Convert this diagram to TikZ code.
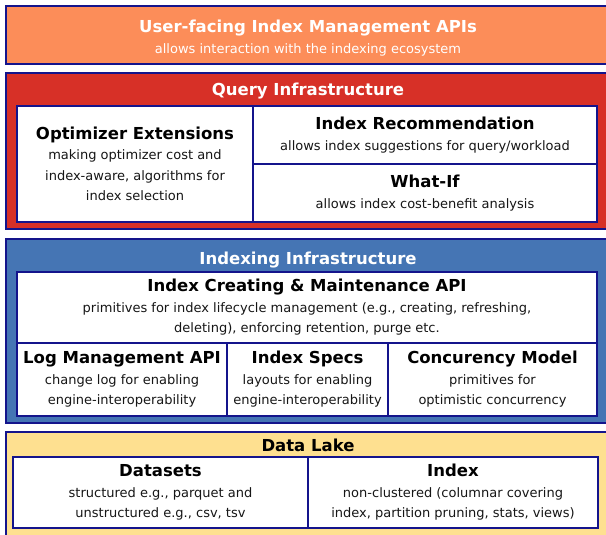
\documentclass[tikz,border=0pt]{standalone}
\usepackage{fontspec}
\setmainfont{DejaVu Sans}
\usepackage{tikz}
\definecolor{apiorange}{HTML}{FC8D59}
\definecolor{queryred}{HTML}{D73027}
\definecolor{indexblue}{HTML}{4575B4}
\definecolor{lakeyellow}{HTML}{FEE090}
\definecolor{framenavy}{HTML}{14148C}
\definecolor{bodygray}{HTML}{161616}
\newcommand{\boxtitle}[1]{{\fontsize{16.5}{20.5}\selectfont\bfseries\color{black}#1}}
\tikzset{
    layer/.style={draw=framenavy, line width=2pt, minimum width=604pt, inner sep=0pt},
    cell/.style={draw=framenavy, fill=white, line width=2pt, inner sep=2pt, align=center,
        text=bodygray, font=\fontsize{13}{20.5}\selectfont},
    head/.style={font=\fontsize{16.5}{20}\selectfont\bfseries, text=white, inner sep=0pt},
}

\begin{document}
\begin{tikzpicture}[x=1pt, y=-1pt]
    \useasboundingbox (0,0) rectangle (606,535);
    \clip (0,0) rectangle (606,535);
    % user-facing layer
    \node [layer, fill=apiorange, minimum height=58pt] (api) at (308,35) {};
    \node [head, align=center, font=\fontsize{13}{21}\selectfont] (apitext) at (308,38)
        {{\fontsize{16.5}{20}\selectfont\bfseries User-facing Index Management APIs}\\allows interaction with the indexing ecosystem};
    % query infrastructure
    \node [layer, fill=queryred, minimum height=156pt] (query) at (308,151) {};
    \node [head] (querytitle) at (308,91) {Query Infrastructure};
    \node [cell, minimum width=236pt, minimum height=116pt] (optimizer) at (135,164)
        {\boxtitle{Optimizer Extensions}\\making optimizer cost and\\index-aware, algorithms for\\index selection};
    \node [cell, minimum width=344pt, minimum height=58pt] (recommend) at (425,135)
        {\boxtitle{Index Recommendation}\\allows index suggestions for query/workload};
    \node [cell, minimum width=344pt, minimum height=58pt] (whatif) at (425,193)
        {\boxtitle{What-If}\\allows index cost-benefit analysis};
    % indexing infrastructure
    \node [layer, fill=indexblue, minimum height=184pt] (indexing) at (308,331) {};
    \node [head] (indexingtitle) at (308,260) {Indexing Infrastructure};
    \node [cell, minimum width=580pt, minimum height=71pt] (maintain) at (307,307.5)
        {\boxtitle{Index Creating \& Maintenance API}\\primitives for index lifecycle management (e.g., creating, refreshing,\\deleting), enforcing retention, purge etc.};
    \node [cell, minimum width=210pt, minimum height=73pt] (logmgmt) at (122,379.5)
        {\boxtitle{Log Management API}\\change log for enabling\\engine-interoperability};
    \node [cell, minimum width=161pt, minimum height=73pt] (specs) at (307.5,379.5)
        {\boxtitle{Index Specs}\\layouts for enabling\\engine-interoperability};
    \node [cell, minimum width=209pt, minimum height=73pt] (concurrency) at (492.5,379.5)
        {\boxtitle{Concurency Model}\\primitives for\\optimistic concurrency};
    % data lake
    \node [layer, fill=lakeyellow, minimum height=113pt] (lake) at (308,488.5) {};
    \node [head, text=black] (laketitle) at (308,445) {Data Lake};
    \node [cell, minimum width=295pt, minimum height=71pt] (datasets) at (160.5,492.5)
        {\boxtitle{Datasets}\\structured e.g., parquet and\\unstructured e.g., csv, tsv};
    \node [cell, minimum width=290pt, minimum height=71pt] (index) at (453,492.5)
        {\boxtitle{Index}\\non-clustered (columnar covering\\index, partition pruning, stats, views)};
\end{tikzpicture}
\end{document}
